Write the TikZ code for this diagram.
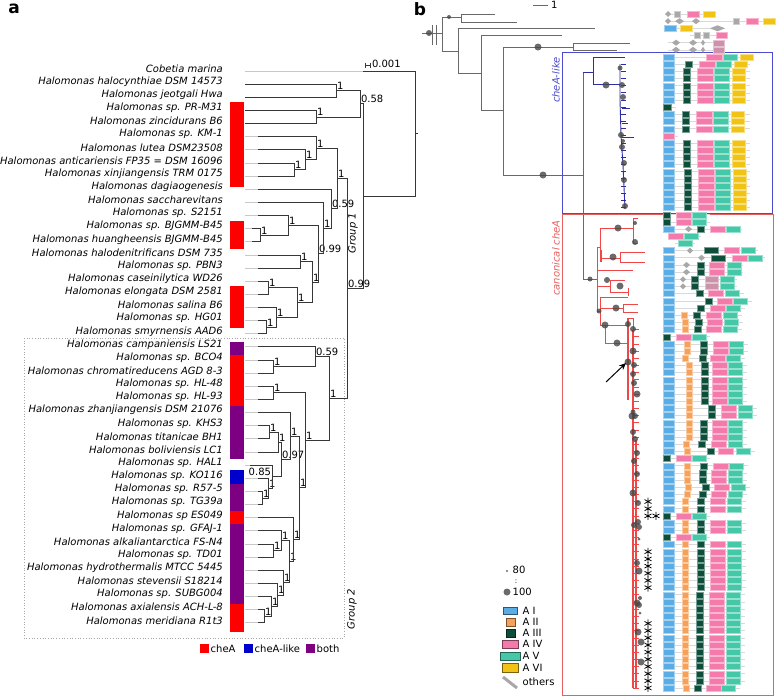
\documentclass[tikz,border=0pt]{standalone}
\usepackage{fontspec}
\setmainfont{DejaVu Sans}
\usetikzlibrary{calc,arrows.meta}
\definecolor{treeC}{RGB}{55,55,55}
\definecolor{alC}{RGB}{200,200,200}
\definecolor{cR}{RGB}{255,0,0}
\definecolor{cBl}{RGB}{0,0,205}
\definecolor{cPu}{RGB}{125,0,130}
\definecolor{ogC}{RGB}{105,105,105}
\definecolor{dA}{RGB}{90,172,228}
\definecolor{dB}{RGB}{247,160,88}
\definecolor{dC}{RGB}{12,78,58}
\definecolor{dD}{RGB}{245,122,172}
\definecolor{dE}{RGB}{68,200,168}
\definecolor{dF}{RGB}{240,195,20}
\definecolor{dG}{RGB}{168,168,168}
\definecolor{boxB}{RGB}{75,75,205}
\definecolor{boxR}{RGB}{232,95,95}
\definecolor{rtC}{RGB}{240,70,70}
\definecolor{btC}{RGB}{45,45,165}
\definecolor{dotC}{RGB}{70,70,70}
\newcommand\fs[1]{\fontsize{#1}{#1}\selectfont}
\tikzset{
 br/.style={draw=treeC,line width=0.9pt},
 al/.style={draw=alC,line width=0.9pt},
 nl/.style={font=\fs{10},inner sep=0.8pt},
 tl/.style={font=\fs{10}\itshape,anchor=east,inner sep=0pt},
 og/.style={draw=ogC,line width=0.9pt},
 rt/.style={draw=rtC,line width=0.9pt},
 bt/.style={draw=btC,line width=0.9pt},
 rl/.style={draw=gray!30,line width=0.6pt},
 dotS/.style={fill=dotC,fill opacity=0.8},
 lg/.style={font=\fs{10},anchor=west,inner sep=0.5pt},
}
% tree node: [label anchor]{name}{x}{childA}{childB}{label}
\newcommand\tn[6][south west]{%
 \coordinate (#2m) at ($(#4)!0.5!(#5)$);
 \coordinate (#2x) at (#3,0);
 \coordinate (#2) at (#2x |- #2m);
 \draw[br] (#4) -- (#4 -| #2) -- (#5 -| #2) -- (#5);
 \node[nl,anchor=#1] (#2l) at (#2) {#6};}
% tip: {index}{text}{tip x}
\newcommand\tip[3]{\pgfmathsetmacro\ty{71+13.14*(#1-1)}%
 \coordinate (t#1) at (#3,\ty);
 \draw[al] (245,\ty) -- (t#1);
 \node[tl] (l#1) at (223,\ty-2.5) {#2};}
% architecture rows
\newcommand\rw[2]{\pgfmathsetmacro\ryy{14+7.17*#1}\begin{scope}[shift={(0,\ryy)}]#2\end{scope}}
\newcommand\bxx[3]{\filldraw[fill=#1,draw=#1!55!white,line width=0.3pt] (#2,-3) rectangle (#3,3);}
\newcommand\Ln[2]{\draw[rl] (#1,0) -- (#2,0);}
\newcommand\Ab{\bxx{dA}{663}{674}}
\newcommand\Ao[1]{\bxx{dB}{#1}{#1+6}}
\newcommand\Ag[1]{\bxx{dC}{#1}{#1+7}}
\newcommand\Ap[1]{\bxx{dD}{#1}{#1+15}}
\newcommand\At[1]{\bxx{dE}{#1}{#1+14}}
\newcommand\Ax[1]{\bxx{dG}{#1}{#1+6}}
\newcommand\Adw[2]{\fill[dG] (#1,0) -- ({(#1+#2)/2},-3) -- (#2,0) -- ({(#1+#2)/2},3) -- cycle;}
\newcommand\Cs[4]{\Ln{663}{#4+19}\Ab\Ao{#1}\Ag{#2}\Ap{#3}\At{#4}}
\newcommand\Cn[3]{\Ln{663}{#3+19}\Ab\Ag{#1}\Ap{#2}\At{#3}}
\newcommand\Cg{\Ln{663}{710}\bxx{dC}{663}{670}\Ap{676}\At{692}}
\newcommand\Ls[1]{\Ln{663}{750}\Ab\begin{scope}[xshift=#1]\Ag{683}\bxx{dD}{697}{713}\bxx{dE}{714}{729}\bxx{dF}{732}{745}\end{scope}}
\newcommand\astk[2]{\draw[line width=0.75pt] (#1,#2) ++(0,-4) -- ++(0,8) (#1,#2) ++(-3.5,-2) -- ++(7,4) (#1,#2) ++(-3.5,2) -- ++(7,-4);}
\begin{document}
\begin{tikzpicture}[x=1pt,y=-1pt]
\useasboundingbox (0,0) rectangle (778,697);
\fill[white] (0,0) rectangle (778,697);
%================ PANEL A =================
\node[font=\fs{17}\bfseries] (pa) at (14,9) {a};
% colour bars
\fill[cR] (230,102) rectangle (244,187);
\fill[cR] (230,221) rectangle (244,249);
\fill[cR] (230,286) rectangle (244,328);
\fill[cPu] (230,342) rectangle (244,355);
\fill[cR] (230,355) rectangle (244,406);
\fill[cPu] (230,406) rectangle (244,459);
\fill[cBl] (230,470) rectangle (244,484);
\fill[cPu] (230,484) rectangle (244,511);
\fill[cR] (230,511) rectangle (244,524);
\fill[cPu] (230,524) rectangle (244,604);
\fill[cR] (230,604) rectangle (244,632);
% tips
\tip{1}{Cobetia marina}{363}
\tip{2}{Halomonas halocynthiae DSM 14573}{245}
\tip{3}{Halomonas jeotgali Hwa}{245}
\tip{4}{Halomonas sp. PR-M31}{245}
\tip{5}{Halomonas zincidurans B6}{245}
\tip{6}{Halomonas sp. KM-1}{258}
\tip{7}{Halomonas lutea DSM23508}{258}
\tip{8}{Halomonas anticariensis FP35 = DSM 16096}{258}
\tip{9}{Halomonas xinjiangensis TRM 0175}{258}
\tip{10}{Halomonas dagiaogenesis}{258}
\tip{11}{Halomonas saccharevitans}{258}
\tip{12}{Halomonas sp. S2151}{258}
\tip{13}{Halomonas sp. BJGMM-B45}{252}
\tip{14}{Halomonas huangheensis BJGMM-B45}{252}
\tip{15}{Halomonas halodenitrificans DSM 735}{258}
\tip{16}{Halomonas sp. PBN3}{258}
\tip{17}{Halomonas caseinilytica WD26}{258}
\tip{18}{Halomonas elongata DSM 2581}{258}
\tip{19}{Halomonas salina B6}{258}
\tip{20}{Halomonas sp. HG01}{258}
\tip{21}{Halomonas smyrnensis AAD6}{258}
\tip{22}{Halomonas campaniensis LS21}{258}
\tip{23}{Halomonas sp. BCO4}{258}
\tip{24}{Halomonas chromatireducens AGD 8-3}{258}
\tip{25}{Halomonas sp. HL-48}{258}
\tip{26}{Halomonas sp. HL-93}{258}
\tip{27}{Halomonas zhanjiangensis DSM 21076}{258}
\tip{28}{Halomonas sp. KHS3}{258}
\tip{29}{Halomonas titanicae BH1}{258}
\tip{30}{Halomonas boliviensis LC1}{258}
\tip{31}{Halomonas sp. HAL1}{250}
\tip{32}{Halomonas sp. KO116}{258}
\tip{33}{Halomonas sp. R57-5}{258}
\tip{34}{Halomonas sp. TG39a}{258}
\tip{35}{Halomonas sp ES049}{258}
\tip{36}{Halomonas sp. GFAJ-1}{258}
\tip{37}{Halomonas alkaliantarctica FS-N4}{258}
\tip{38}{Halomonas sp. TD01}{258}
\tip{39}{Halomonas hydrothermalis MTCC 5445}{258}
\tip{40}{Halomonas stevensii S18214}{258}
\tip{41}{Halomonas sp. SUBG004}{258}
\tip{42}{Halomonas axialensis ACH-L-8}{258}
\tip{43}{Halomonas meridiana R1t3}{258}
% group 1
\tn{hj}{336}{t2}{t3}{1}
\tn{pz}{316}{t4}{t5}{1}
\tn{nf}{360}{hj}{pz}{0.58}
\tn{ax}{294}{t8}{t9}{1}
\tn{lu}{305}{t7}{ax}{1}
\tn{km}{316}{t6}{lu}{1}
\tn{bh}{260}{t13}{t14}{1}
\tn{sb}{288}{t12}{bh}{1}
\tn{hp}{300}{t15}{t16}{1}
\tn{ce}{268}{t17}{t18}{1}
\tn{hs}{266}{t20}{t21}{1}
\tn{sa}{276}{t19}{hs}{1}
\tn{cs}{297}{ce}{sa}{1}
\tn{hc}{312}{hp}{cs}{1}
\tn{ee}{318}{sb}{hc}{0.99}
\tn{ff}{323}{t11}{ee}{1}
\tn{gg}{331}{t10}{ff}{0.59}
\tn{GA}{337}{km}{gg}{1}
% group 2
\tn{bc}{273}{t23}{t24}{1}
\tn{cf}{315}{t22}{bc}{0.59}
\tn{hl}{273}{t25}{t26}{1}
\tn{kt}{269}{t28}{t29}{1}
\tn{kb}{278}{kt}{t30}{1}
\tn{rtn}{262}{t33}{t34}{1}
\tn{kr}{268}{t32}{rtn}{1}
\tn[south east]{hk}{272}{t31}{kr}{0.85}
\tn{qq}{281}{kb}{hk}{0.97}
\tn{zo}{290}{t27}{qq}{1}
\tn{atn}{273}{t37}{t38}{1}
\tn{ga}{281}{t36}{atn}{1}
\tn{am}{264}{t42}{t43}{1}
\tn{smn}{271}{t41}{am}{1}
\tn{stn}{277}{t40}{smn}{1}
\tn{hy}{283}{t39}{stn}{1}
\tn{gh}{289}{ga}{hy}{1}
\tn{zt}{293}{t35}{gh}{1}
\tn{zz}{299}{zo}{zt}{1}
\tn{HH}{305}{hl}{zz}{1}
\tn{GB}{329}{cf}{HH}{1}
\tn{nn}{347}{GA}{GB}{0.99}
\tn{ra}{363}{nf}{nn}{}
\tn{root}{415}{t1}{ra}{}
\draw[br] (root) -- ++(3,0);
% scale bar
\draw[br,line width=0.7pt] (365,65) -- (370,65) (365,62.5) -- (365,67.5) (370,62.5) -- (370,67.5);
\node[nl,anchor=west] (sca) at (371,64) {0.001};
% group box
\draw[gray!70,dotted,line width=0.7pt] (24,338) rectangle (344,638);
\node[font=\fs{10}\itshape,rotate=90] (g1) at (353,233) {Group 1};
\node[font=\fs{10}\itshape,rotate=90] (g2) at (352,609) {Group 2};
% legend a
\fill[cR] (200,644) rectangle (209,653);
\node[lg] (la1) at (210,648.5) {cheA};
\fill[cBl] (244,644) rectangle (253,653);
\node[lg] (la2) at (254,648.5) {cheA-like};
\fill[cPu] (306,644) rectangle (315,653);
\node[lg] (la3) at (316,648.5) {both};
%================ PANEL B =================
\node[font=\fs{17}\bfseries] (pb) at (420,9) {b};
\draw[og] (533,5) -- (548,5);
\node[nl,anchor=west] (scb) at (550,5) {1};
% outgroup tree
\draw[og] (422,33) -- (442,33) (432,25) -- (432,45) (436,25) -- (436,45);
\draw[og] (442,17) -- (442,51) (442,17) -- (461,17) (461,14) -- (461,22) (461,14) -- (495,14) (461,22) -- (517,22);
\draw[og] (442,51) -- (458,51) (458,28) -- (458,73) (458,28) -- (595,28) (458,73) -- (481,73);
\draw[og] (481,35) -- (481,110) (481,35) -- (562,35) (481,110) -- (503,110);
\draw[og] (503,47) -- (503,175) (503,47) -- (573,47) (573,43) -- (573,50) (573,43) -- (630,43) (573,50) -- (617,50);
\draw[og] (503,175) -- (583,175) (583,72) -- (583,279) (583,279) -- (597,279);
\foreach \x/\y/\r in {429/33/3,449/17/2,538/47/3.5,543/175/3.5,590/279/2.5} \fill[dotS] (\x,\y) circle (\r);
% boxes
\draw[boxB,line width=0.9pt] (562,52) rectangle (772,213);
\draw[boxR,line width=0.9pt] (562,214.5) rectangle (773,695);
\node[font=\fs{10}\itshape,text=boxB,rotate=90] (cl) at (556,80) {cheA-like};
\node[font=\fs{10}\itshape,text=boxR,rotate=90] (cc) at (556,258) {canonical cheA};
% blue tree
\draw[bt] (583,72) -- (593,72) (593,57) -- (593,84) (593,57) -- (625,57) (593,84) -- (620,84);
\draw[bt] (620,64) -- (620,100) -- (621,135) -- (623,165) -- (625,209);
\foreach \k in {7,...,27}{\pgfmathsetmacro\yy{14+7.17*\k}\draw[bt] (621,\yy) -- (626,\yy);}
\draw[bt] (622,108) -- (630,108) (622,123) -- (628,123) (622,137) -- (634,137);
\foreach \x/\y/\r in {620/68/2.5,606/85/3.5,622/85/3,623/97/3,621/135/3,623/141/2,622/147/3,624/163/3,624/180/3,625/206/3} \fill[dotS] (\x,\y) circle (\r);
% red tree
\draw[rt] (597,247) -- (597,311);
\draw[rt] (597,247) -- (600,247) (600,228) -- (600,258) (600,228) -- (633,228) (633,218) -- (633,243) (633,218) -- (638,218) (633,243) -- (638,243);
\draw[rt] (600,258) -- (620,258) (620,252) -- (620,262) (620,252) -- (645,252) (620,262) -- (645,262);
\draw[rt,line width=1.6pt] (601,250) -- (601,262);
\draw[rt] (597,270) -- (633,270) (597,286) -- (610,286) (610,280) -- (610,292) (610,280) -- (625,280) (610,292) -- (628,292) (628,288) -- (628,296);
\draw[rt] (597,311) -- (600,311) (600,297) -- (600,325) (600,297) -- (628,297) (600,308) -- (623,308) (623,304) -- (623,312) (623,304) -- (638,304) (623,312) -- (638,312);
\draw[rt] (600,325) -- (605,325) (605,325) -- (605,343) (605,325) -- (628,325) (605,343) -- (628,343);
\draw[rt,line width=1.2pt] (628,318) -- (628,400) (633,330) -- (633,688) (636,440) -- (636,688);
\draw[rt] (628,318) -- (633,318) (633,318) -- (633,330);
\foreach \k in {44,...,94}{\pgfmathsetmacro\yy{14+7.17*\k}\draw[rt,line width=0.6pt] (633,\yy) -- (639,\yy);}
\foreach \x/\y/\r in {618/228/3.5,635/223/2,635/242/3,613/257/3.5,607/280/3,620/286/3.5,599/311/2.5,616/308/3.5,605/325/3.5,617/343/3.5,628/324/3,633/329/3,633/351/3.5,628/362/3.5,634/365/3,633/374/3,634/383/3,637/394/3.5,633/412/2.5,632/416/3.5,635/416/3,633/432/3,635/439/3,637/453/3,634/461/3,637/474/3,633/493/3.5,638/503/3,638/522/3,634/525/3,639/527/3,639/539/1.5,637/563/3,639/571/3.5,640/598/2,637/603/3.5,639/605/3,640/613/1.5,638/632/3.5,641/642/3.5,641/662/3.5} \fill[dotS] (\x,\y) circle (\r);
\draw[-{Stealth[length=7pt,width=6pt]},line width=1pt] (606,382) -- (626,363);
% outgroup architectures
\rw{0}{\Ln{665}{715}\Adw{665}{671}\Ax{674}\bxx{dD}{687}{699}\bxx{dF}{703}{715}}
\rw{1}{\Ln{665}{775}\Adw{665}{671}\Adw{675}{684}\Adw{692}{700}\Ax{733}\bxx{dD}{746}{758}\bxx{dF}{763}{775}}
\rw{2}{\Ln{664}{725}\bxx{dA}{664}{676}\bxx{dF}{680}{692}\Adw{710}{725}}
\rw{3}{\Ln{690}{727}\Ax{694}\Ax{703}\bxx{dD}{716}{727}}
\rw{4}{\Ln{668}{724}\Adw{672}{680}\Adw{689}{697}\Adw{701}{705}\bxx{dG!50!dD}{713}{724}}
\rw{5}{\Ln{668}{724}\Adw{672}{680}\Adw{689}{697}\Adw{701}{705}\bxx{dG!50!dD}{713}{724}}
% cheA-like architectures
\rw{6}{\Ln{663}{753}\Ab\bxx{dD}{706}{722}\bxx{dE}{723}{737}\bxx{dF}{740}{753}}
\rw{7}{\Ls{2}}
\foreach \k in {8,...,12}{\rw{\k}{\Ls{0}}}
\rw{13}{\Ln{663}{676}\bxx{dC}{663}{671}}
\foreach \k in {14,15,16}{\rw{\k}{\Ls{-1}}}
\rw{17}{\Ln{663}{678}\bxx{dD}{663}{674}}
\foreach \k in {18,...,21}{\rw{\k}{\Ls{0}}}
\foreach \k in {22,...,27}{\rw{\k}{\Ls{1}}}
% canonical architectures
\rw{28}{\Cg}\rw{29}{\Cg}
\rw{30}{\Ln{663}{742}\Ab\Adw{685}{692}\Ag{697}\Ap{710}\At{726}}
\rw{31}{\Ln{668}{701}\Ap{668}\At{684}}
\rw{32}{\Ln{675}{695}\At{678}}
\rw{33}{\Ln{663}{758}\Ab\Adw{687}{693}\bxx{dC}{704}{718}\Ap{724}\At{741}}
\rw{34}{\Ln{663}{765}\Ab\Adw{698}{705}\bxx{dC}{711}{725}\Ap{732}\At{748}}
\rw{35}{\Ln{663}{743}\Ab\Adw{683}{690}\Ag{697}\Ap{709}\At{727}}
\rw{36}{\Ln{663}{743}\Ab\Adw{683}{690}\Ag{697}\Ap{709}\At{727}}
\rw{37}{\Ln{663}{737}\Ab\Adw{680}{686}\Ag{691}\bxx{dG!55!dD}{705}{718}\At{720}}
\rw{38}{\Ln{663}{737}\Ab\Adw{680}{686}\Ag{691}\bxx{dG!55!dD}{705}{718}\At{720}}
\rw{39}{\Cn{696}{708}{725}}
\rw{40}{\Cn{705}{717}{733}}
\rw{41}{\Cn{697}{710}{726}}
\rw{42}{\Cs{681}{693}{706}{723}}
\rw{43}{\Cs{682}{695}{707}{724}}
\rw{44}{\Cs{682}{694}{706}{723}}
\rw{45}{\Cg}
\rw{46}{\Cs{684}{700}{713}{729}}
\rw{47}{\Cs{684}{700}{713}{729}}
\rw{48}{\Cs{682}{699}{710}{726}}
\foreach \k in {49,...,54}{\rw{\k}{\Cs{686}{701}{712}{728}}}
\rw{55}{\Cs{686}{708}{721}{738}}
\rw{56}{\Cs{686}{708}{721}{738}}
\foreach \k in {57,58,59}{\rw{\k}{\Cs{686}{700}{712}{728}}}
\rw{60}{\Cs{683}{698}{711}{728}}
\rw{61}{\Cs{684}{707}{718}{736}}
\rw{62}{\Cg}
\rw{63}{\Cs{684}{700}{713}{729}}
\rw{64}{\Cs{684}{699}{711}{728}}
\rw{65}{\Cs{684}{699}{711}{728}}
\rw{66}{\Cs{685}{702}{714}{731}}
\rw{67}{\Cs{684}{699}{711}{728}}
\rw{68}{\Cs{682}{697}{710}{727}}
\rw{69}{\Cs{682}{697}{710}{727}}
\rw{70}{\Cg}
\rw{71}{\Cs{682}{697}{710}{727}}
\rw{72}{\Cs{682}{697}{710}{727}}
\rw{73}{\Cg}
\foreach \k in {74,...,80}{\rw{\k}{\Cs{682}{697}{710}{727}}}
\foreach \k in {81,...,93}{\rw{\k}{\Cs{682}{696}{709}{726}}}
\rw{94}{\Cs{683}{694}{706}{721}}
% asterisks
\foreach \k in {68,69,70,75,76,77,78,79,80,85,86,87,88,89,90,91,92,93,94}{\pgfmathsetmacro\yy{14+7.17*\k}\astk{648}{\yy}}
\pgfmathsetmacro\yy{14+7.17*70}\astk{656}{\yy}
% legend b
\fill[dotS] (507,571) circle (1.2);
\node[lg] (b80) at (512,570) {80};
\node[font=\fs{7},inner sep=0pt] (bcol) at (516,581.5) {:};
\fill[dotS] (507,592) circle (3.5);
\node[lg] (b100) at (512,592) {100};
\filldraw[fill=dA,draw=dA!50!black,line width=0.3pt] (503,607) rectangle (517,614);
\node[lg] (lA1) at (522,611) {A I};
\filldraw[fill=dB,draw=dB!50!black,line width=0.3pt] (506,618) rectangle (515,626);
\node[lg] (lA2) at (522,622) {A II};
\filldraw[fill=dC,draw=dC!50!black,line width=0.3pt] (506,629) rectangle (515,637);
\node[lg] (lA3) at (522,633) {A III};
\filldraw[fill=dD,draw=dD!50!black,line width=0.3pt] (502,640) rectangle (518,648);
\node[lg] (lA4) at (522,644) {A IV};
\filldraw[fill=dE,draw=dE!50!black,line width=0.3pt] (500,652) rectangle (520,660);
\node[lg] (lA5) at (522,656) {A V};
\filldraw[fill=dF,draw=dF!50!black,line width=0.3pt] (502,663) rectangle (518,672);
\node[lg] (lA6) at (522,667.5) {A VI};
\draw[dG,line width=3pt] (503,677) -- (517,688);
\node[lg] (lA7) at (522,682) {others};
\end{tikzpicture}
\end{document}
